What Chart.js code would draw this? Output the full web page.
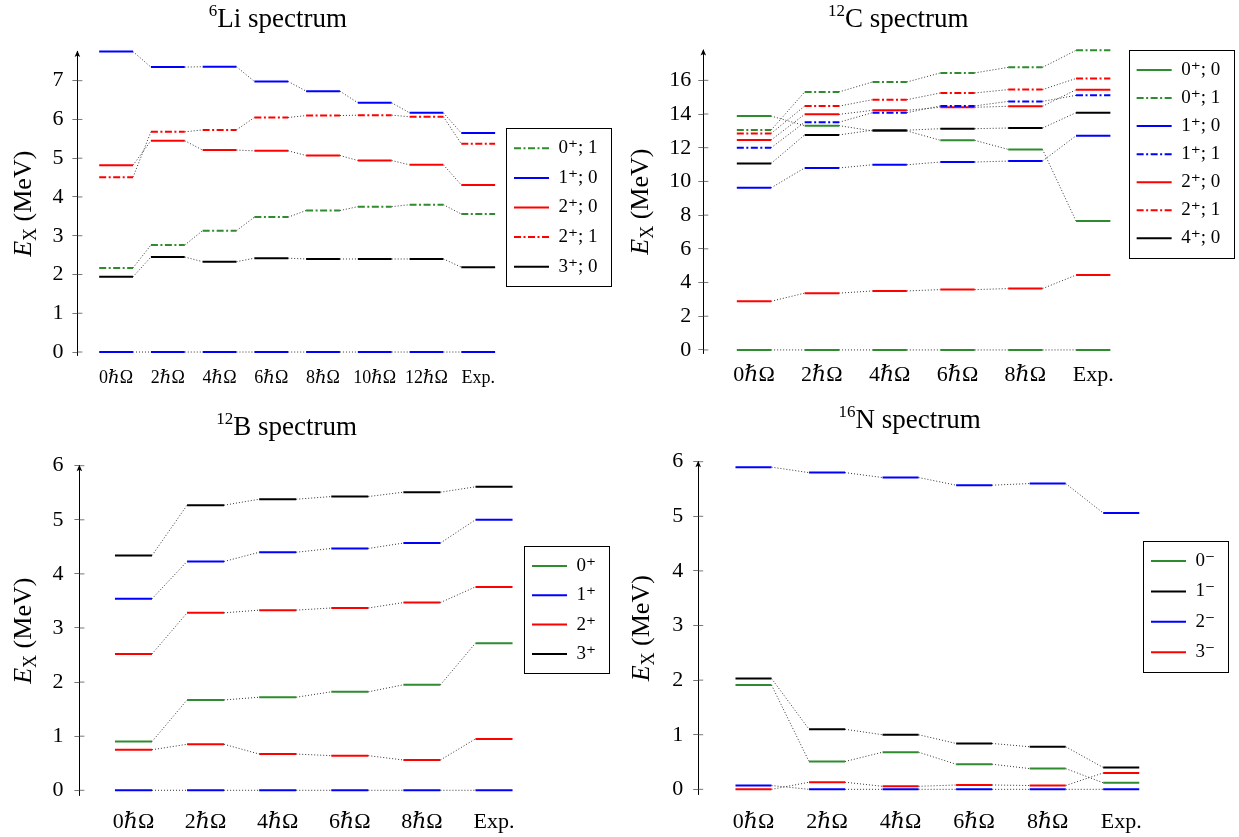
<!DOCTYPE html>
<html>
<head>
<meta charset="utf-8">
<title>Shell-model spectra</title>
<script src="https://cdn.jsdelivr.net/npm/chart.js@4.4.1/dist/chart.umd.min.js"></script>
<style>
  html, body { margin: 0; padding: 0; background: #fff; }
  #wrap { position: relative; width: 1239px; height: 837px; }
  #wrap canvas { position: absolute; }
</style>
</head>
<body>
<div id="wrap">
  <canvas id="li" width="620" height="400" style="left:0;top:0"></canvas>
  <canvas id="c" width="619" height="400" style="left:620px;top:0"></canvas>
  <canvas id="b" width="620" height="437" style="left:0;top:400px"></canvas>
  <canvas id="n" width="619" height="437" style="left:620px;top:400px"></canvas>
</div>
<script>
// ---- 6Li levels (MeV) ----
const liSteps = ['0ℏΩ', '2ℏΩ', '4ℏΩ', '6ℏΩ', '8ℏΩ', '10ℏΩ', '12ℏΩ', 'Exp.'];
const liTicks = [0, 1, 2, 3, 4, 5, 6, 7];
const li0p1 = [2.17, 2.76, 3.13, 3.48, 3.65, 3.75, 3.80, 3.56];
const li1p0 = [0, 0, 0, 0, 0, 0, 0, 0];
const li1p0b = [7.75, 7.35, 7.36, 6.98, 6.73, 6.43, 6.17, 5.65];
const li2p0 = [4.82, 5.45, 5.21, 5.19, 5.07, 4.94, 4.83, 4.31];
const li2p1 = [4.51, 5.68, 5.73, 6.05, 6.10, 6.11, 6.07, 5.37];
const li3p0 = [1.94, 2.45, 2.33, 2.42, 2.40, 2.40, 2.40, 2.19];

// ---- 12C levels ----
const cSteps = ['0ℏΩ', '2ℏΩ', '4ℏΩ', '6ℏΩ', '8ℏΩ', 'Exp.'];
const cTicks = [0, 2, 4, 6, 8, 10, 12, 14, 16];
const c0p0 = [0, 0, 0, 0, 0, 0];
const c0p0b = [13.88, 13.31, 13.00, 12.44, 11.90, 7.65];
const c0p1 = [13.05, 15.31, 15.90, 16.44, 16.77, 17.78];
const c1p0 = [9.62, 10.80, 10.99, 11.15, 11.21, 12.71];
const c1p1 = [12.00, 13.51, 14.08, 14.48, 14.75, 15.11];
const c2p0 = [2.89, 3.37, 3.50, 3.58, 3.64, 4.44];
const c2p0b = [12.46, 13.98, 14.22, 14.40, 14.46, 15.44];
const c2p1 = [12.85, 14.47, 14.85, 15.25, 15.45, 16.11];
const c4p0 = [11.07, 12.76, 13.04, 13.13, 13.17, 14.08];

// ---- 12B levels ----
const bSteps = ['0ℏΩ', '2ℏΩ', '4ℏΩ', '6ℏΩ', '8ℏΩ', 'Exp.'];
const bTicks = [0, 1, 2, 3, 4, 5, 6];
const b0p = [0.90, 1.67, 1.72, 1.82, 1.95, 2.72];
const b1p = [0, 0, 0, 0, 0, 0];
const b1pb = [3.54, 4.23, 4.40, 4.47, 4.57, 5.00];
const b2p = [0.75, 0.85, 0.67, 0.64, 0.56, 0.95];
const b2pb = [2.52, 3.28, 3.33, 3.37, 3.47, 3.76];
const b3p = [4.34, 5.27, 5.38, 5.43, 5.51, 5.61];

// ---- 16N levels ----
const nSteps = ['0ℏΩ', '2ℏΩ', '4ℏΩ', '6ℏΩ', '8ℏΩ', 'Exp.'];
const nTicks = [0, 1, 2, 3, 4, 5, 6];
const n0m = [1.91, 0.51, 0.68, 0.46, 0.38, 0.12];
const n1m = [2.03, 1.10, 1.00, 0.84, 0.78, 0.40];
const n2m = [0.07, 0, 0, 0, 0, 0];
const n2mb = [5.90, 5.80, 5.71, 5.57, 5.60, 5.06];
const n3m = [0, 0.13, 0.055, 0.08, 0.07, 0.30];

const SERIF = '"Liberation Serif", "DejaVu Serif", serif';
const GREEN = '#2e8b2e', BLUE = '#0000ff', RED = '#ff0000', BLACK = '#000000';
const SOLID = [], DASHDOT = [7, 2.5, 2, 2.5];
const LEGEND_FONT = 19, LEGEND_LINE = 35;

// width Chart.js gives a right-hand legend: padding + sample + gap + text + 10
function legendWidth(labels, pad) {
  const ctx = document.createElement('canvas').getContext('2d');
  ctx.font = LEGEND_FONT + 'px ' + SERIF;
  const textW = Math.max(...labels.map(t => ctx.measureText(t).width));
  return pad + LEGEND_LINE + LEGEND_FONT / 2 + textW + 10;
}

// y-axis arrow, inner tick halves, axis label, panel title and legend frame
const pgfDecor = {
  id: 'pgfDecor',
  afterDraw(chart, args, o) {
    const {ctx, chartArea} = chart;
    const ys = chart.scales.y, xs = chart.scales.x;
    const ax = chartArea.left;
    ctx.save();

    ctx.fillStyle = '#000';
    ctx.beginPath();
    ctx.moveTo(ax, chartArea.top - 1);
    ctx.lineTo(ax - 2.8, chartArea.top + 5.5);
    ctx.lineTo(ax, chartArea.top + 4);
    ctx.lineTo(ax + 2.8, chartArea.top + 5.5);
    ctx.closePath();
    ctx.fill();

    ctx.strokeStyle = '#555';
    ctx.lineWidth = 0.8;
    ys.ticks.forEach(t => {
      const py = ys.getPixelForValue(t.value);
      ctx.beginPath();
      ctx.moveTo(ax, py);
      ctx.lineTo(ax + 5, py);
      ctx.stroke();
    });

    // E_X (MeV), rotated
    const parts = [
      ['E', 'italic 26px ' + SERIF, 0],
      ['X', '18px ' + SERIF, 5],
      [' (MeV)', '26px ' + SERIF, 0]
    ];
    let total = 0;
    parts.forEach(p => { ctx.font = p[1]; total += ctx.measureText(p[0]).width; });
    ctx.save();
    ctx.translate(o.yLabelX, (chartArea.top + chartArea.bottom) / 2);
    ctx.rotate(-Math.PI / 2);
    ctx.textBaseline = 'alphabetic';
    let px = -total / 2;
    parts.forEach(p => {
      ctx.font = p[1];
      ctx.fillText(p[0], px, 8.5 + p[2]);
      px += ctx.measureText(p[0]).width;
    });
    ctx.restore();

    // title with raised mass number, centred over the axis
    const cx = (ax + xs.getPixelForValue(xs.ticks.length - 1)) / 2;
    ctx.textBaseline = 'alphabetic';
    ctx.font = '17px ' + SERIF;
    const supW = ctx.measureText(o.sup).width;
    ctx.font = '27px ' + SERIF;
    const nameW = ctx.measureText(o.name).width;
    const tx = cx - (supW + nameW) / 2;
    ctx.font = '17px ' + SERIF;
    ctx.fillText(o.sup, tx, o.titleY - 1);
    ctx.font = '27px ' + SERIF;
    ctx.fillText(o.name, tx + supW, o.titleY + 10);

    // frame around the legend entries
    const boxes = chart.legend.legendHitBoxes;
    if (boxes && boxes.length) {
      const left = Math.min(...boxes.map(b => b.left)) - 8;
      const right = Math.max(...boxes.map(b => b.left + b.width)) + 13;
      const top = Math.min(...boxes.map(b => b.top)) - 10.5;
      const bottom = Math.max(...boxes.map(b => b.top + b.height)) + 10;
      ctx.strokeStyle = '#000';
      ctx.lineWidth = 1;
      ctx.strokeRect(Math.round(left) + 0.5, Math.round(top) + 0.5,
        Math.round(right - left), Math.round(bottom - top));
    }
    ctx.restore();
  }
};

function spectrum(id, p) {
  const canvas = document.getElementById(id);
  const labels = [...new Set(p.tracks.map(t => t.label))];
  const rightPad = Math.max(0, canvas.width - p.chartRight - legendWidth(labels, p.legendPad));
  const xHeight = canvas.height - p.chartBottom;

  const datasets = p.tracks.map(t => ({
    label: t.label,
    data: t.values.flatMap((v, i) => [{x: i - p.half, y: v}, {x: i + p.half, y: v}]),
    borderColor: t.color,
    borderDash: t.dash,
    borderWidth: 2,
    borderCapStyle: 'butt',
    pointRadius: 0,
    tension: 0,
    fill: false,
    clip: 4,
    // odd segments join one level to the next column: thin dotted
    segment: {
      borderColor: c => (c.p0DataIndex % 2 ? '#333' : undefined),
      borderWidth: c => (c.p0DataIndex % 2 ? 1 : undefined),
      borderDash: c => (c.p0DataIndex % 2 ? [1, 2] : undefined)
    }
  }));

  return new Chart(canvas, {
    type: 'line',
    data: { datasets },
    plugins: [pgfDecor],
    options: {
      responsive: false,
      animation: false,
      events: [],
      layout: { padding: { left: 0, top: p.top, right: rightPad, bottom: 0 } },
      scales: {
        x: {
          type: 'linear',
          min: p.xMin,
          max: p.xMax,
          afterBuildTicks: s => { s.ticks = p.steps.map((_, i) => ({ value: i })); },
          afterFit: s => { s.height = xHeight; },
          ticks: {
            callback: v => p.steps[v],
            autoSkip: false,
            maxRotation: 0,
            padding: p.xPad,
            color: '#000',
            font: { family: SERIF, size: p.xFont }
          },
          grid: { display: false, drawTicks: false },
          border: { display: false }
        },
        y: {
          type: 'linear',
          min: p.yMin,
          max: p.yMax,
          afterBuildTicks: s => { s.ticks = p.yTicks.map(v => ({ value: v })); },
          afterFit: s => { s.width = p.axisX; },
          ticks: { color: '#000', padding: p.yPad, font: { family: SERIF, size: 22 } },
          grid: { drawOnChartArea: false, tickLength: 5, color: '#555', lineWidth: 0.8 },
          border: { display: true, color: '#000', width: 1 }
        }
      },
      plugins: {
        tooltip: { enabled: false },
        title: { display: false },
        legend: {
          position: 'right',
          align: 'start',
          title: {
            display: p.legendOffset > 1.2,
            text: ' ',
            font: { size: 1 },
            padding: { top: Math.max(0, p.legendOffset - 1.2), bottom: 0 }
          },
          labels: {
            usePointStyle: true,
            pointStyle: 'line',
            pointStyleWidth: LEGEND_LINE,
            padding: p.legendPad,
            color: '#000',
            font: { family: SERIF, size: LEGEND_FONT },
            // keep each dataset's own dash pattern in the sample line
            generateLabels: chart => Chart.defaults.plugins.legend.labels.generateLabels(chart).map(item => {
              const ds = chart.data.datasets[item.datasetIndex];
              return Object.assign(item, { lineDash: ds.borderDash, strokeStyle: ds.borderColor, lineWidth: ds.borderWidth });
            }),
            filter: (item, data) => data.datasets.findIndex(d => d.label === item.text) === item.datasetIndex
          }
        },
        pgfDecor: { sup: p.sup, name: p.name, titleY: p.titleY, yLabelX: p.yLabelX }
      }
    }
  });
}

spectrum('li', {
  steps: liSteps, yTicks: liTicks, yMin: -0.1, yMax: 7.75,
  tracks: [
    { label: '0⁺; 1', values: li0p1, color: GREEN, dash: DASHDOT },
    { label: '1⁺; 0', values: li1p0, color: BLUE, dash: SOLID },
    { label: '2⁺; 0', values: li2p0, color: RED, dash: SOLID },
    { label: '2⁺; 1', values: li2p1, color: RED, dash: DASHDOT },
    { label: '3⁺; 0', values: li3p0, color: BLACK, dash: SOLID },
    { label: '1⁺; 0', values: li1p0b, color: BLUE, dash: SOLID }
  ],
  half: 0.327, xMin: -0.748, xMax: 7.487,
  axisX: 77.4, chartRight: 503.4, top: 51.6, chartBottom: 355.9,
  xFont: 18, xPad: 11.6, yPad: 9,
  legendPad: 10.6, legendOffset: 76.6,
  sup: '6', name: 'Li spectrum', titleY: 17, yLabelX: 22
});

spectrum('c', {
  steps: cSteps, yTicks: cTicks, yMin: -0.2, yMax: 17.8,
  tracks: [
    { label: '0⁺; 0', values: c0p0, color: GREEN, dash: SOLID },
    { label: '0⁺; 1', values: c0p1, color: GREEN, dash: DASHDOT },
    { label: '1⁺; 0', values: c1p0, color: BLUE, dash: SOLID },
    { label: '1⁺; 1', values: c1p1, color: BLUE, dash: DASHDOT },
    { label: '2⁺; 0', values: c2p0, color: RED, dash: SOLID },
    { label: '2⁺; 1', values: c2p1, color: RED, dash: DASHDOT },
    { label: '4⁺; 0', values: c4p0, color: BLACK, dash: SOLID },
    { label: '0⁺; 0', values: c0p0b, color: GREEN, dash: SOLID },
    { label: '2⁺; 0', values: c2p0b, color: RED, dash: SOLID }
  ],
  half: 0.253, xMin: -0.747, xMax: 5.507,
  axisX: 83.3, chartRight: 507.6, top: 50, chartBottom: 353.3,
  xFont: 22, xPad: 8.8, yPad: 7,
  legendPad: 9.05, legendOffset: 1.45,
  sup: '12', name: 'C spectrum', titleY: 16.7, yLabelX: 19
});

spectrum('b', {
  steps: bSteps, yTicks: bTicks, yMin: -0.1, yMax: 6,
  tracks: [
    { label: '0⁺', values: b0p, color: GREEN, dash: SOLID },
    { label: '1⁺', values: b1p, color: BLUE, dash: SOLID },
    { label: '2⁺', values: b2p, color: RED, dash: SOLID },
    { label: '3⁺', values: b3p, color: BLACK, dash: SOLID },
    { label: '1⁺', values: b1pb, color: BLUE, dash: SOLID },
    { label: '2⁺', values: b2pb, color: RED, dash: SOLID }
  ],
  half: 0.257, xMin: -0.75, xMax: 5.384,
  axisX: 79.4, chartRight: 521.7, top: 65.7, chartBottom: 395.7,
  xFont: 22, xPad: 13.8, yPad: 11,
  legendPad: 10.3, legendOffset: 80.5,
  sup: '12', name: 'B spectrum', titleY: 25, yLabelX: 22
});

spectrum('n', {
  steps: nSteps, yTicks: nTicks, yMin: -0.1, yMax: 6,
  tracks: [
    { label: '0⁻', values: n0m, color: GREEN, dash: SOLID },
    { label: '1⁻', values: n1m, color: BLACK, dash: SOLID },
    { label: '2⁻', values: n2m, color: BLUE, dash: SOLID },
    { label: '3⁻', values: n3m, color: RED, dash: SOLID },
    { label: '2⁻', values: n2mb, color: BLUE, dash: SOLID }
  ],
  half: 0.245, xMin: -0.752, xMax: 5.25,
  axisX: 78.2, chartRight: 519.6, top: 61.7, chartBottom: 394.8,
  xFont: 22, xPad: 14.7, yPad: 10,
  legendPad: 11.4, legendOffset: 78.4,
  sup: '16', name: 'N spectrum', titleY: 18.3, yLabelX: 20
});
</script>
</body>
</html>
